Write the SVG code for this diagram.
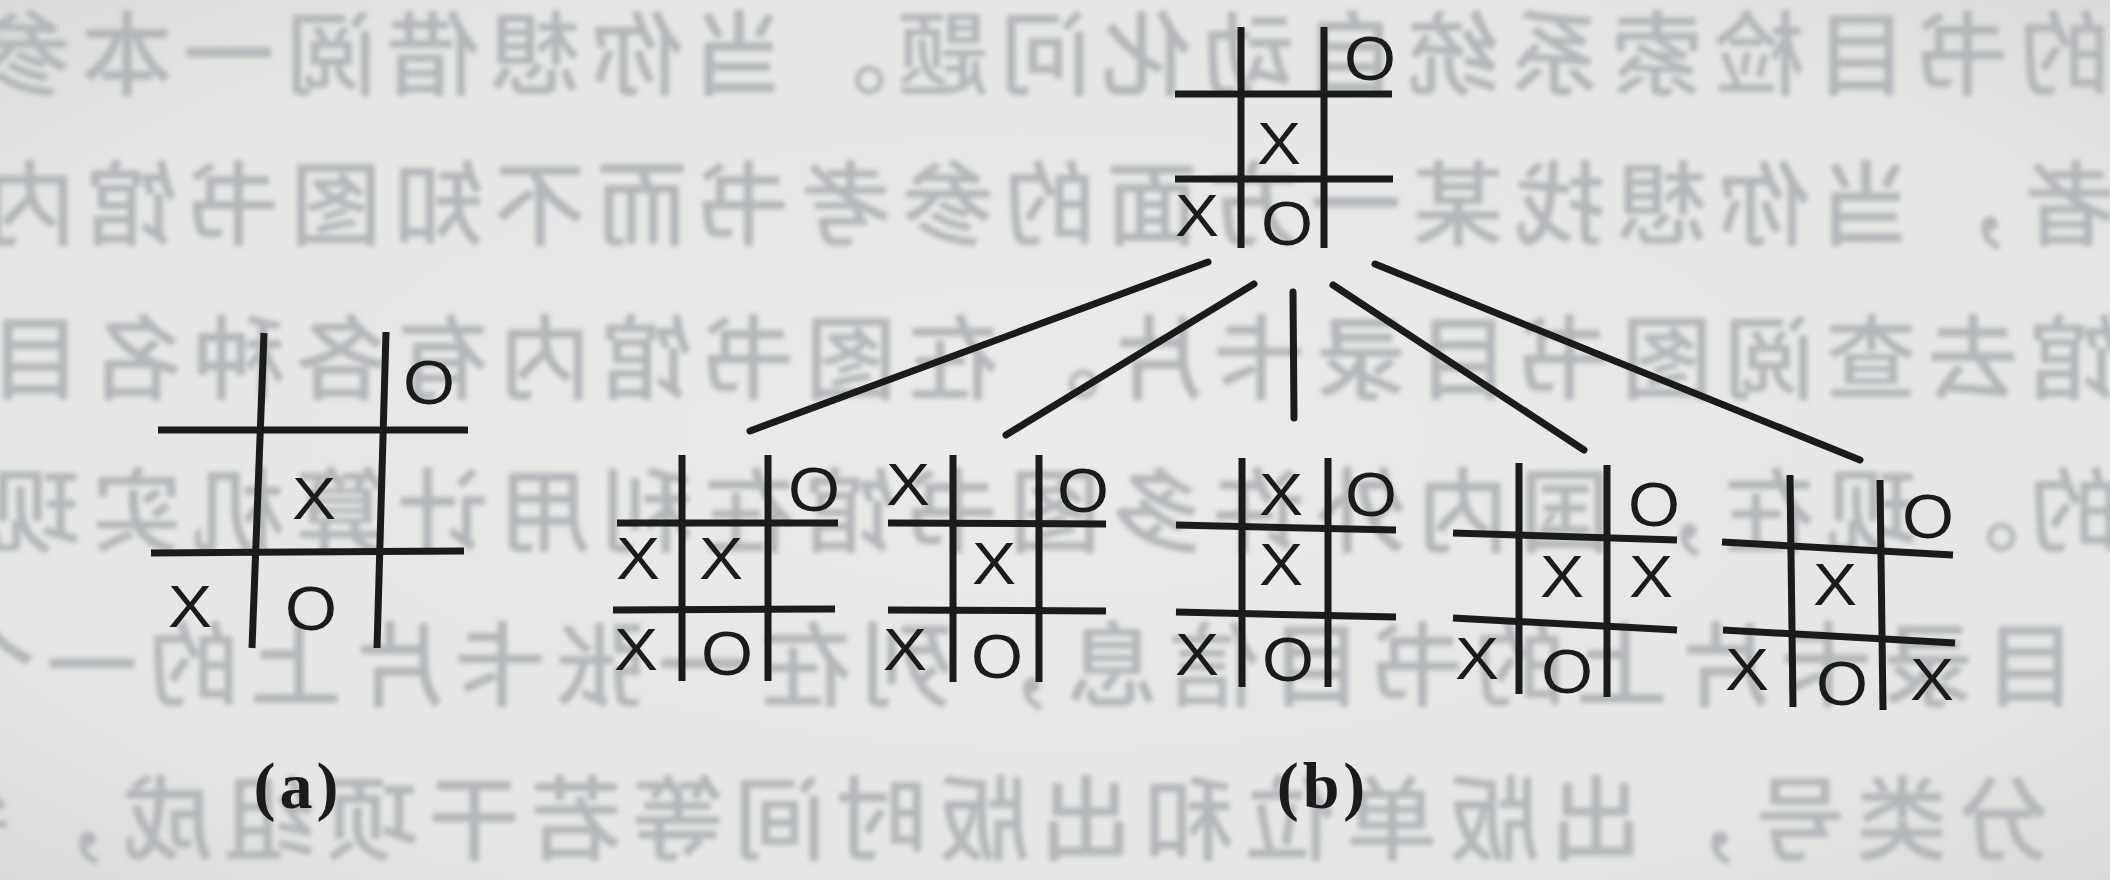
<svg xmlns="http://www.w3.org/2000/svg" width="2110" height="880" viewBox="0 0 2110 880">
<defs>
<radialGradient id="paper" cx="50%" cy="50%" r="75%">
<stop offset="0" stop-color="#ebebe9"/>
<stop offset="0.7" stop-color="#e5e6e4"/>
<stop offset="1" stop-color="#d8d9d7"/>
</radialGradient>
<filter id="soft" x="-5%" y="-20%" width="110%" height="140%">
<feGaussianBlur stdDeviation="2.4"/>
</filter>
<style>
.bt{font-family:"Noto Sans CJK SC","Noto Sans CJK JP",sans-serif;font-size:92px;font-weight:500;letter-spacing:10px;fill:#b3b7ba}
.ln{stroke:#1b1b1b;stroke-width:7;fill:none;stroke-linecap:butt}
.cn{stroke:#1b1b1b;stroke-width:7;fill:none;stroke-linecap:round}
.x{font-family:"Liberation Sans",Arial,sans-serif;font-size:60px;fill:#1b1b1b;text-anchor:middle}
.o{font-family:"Liberation Sans",Arial,sans-serif;font-size:63px;fill:#1b1b1b;text-anchor:middle}
.lab{font-family:"Liberation Serif","Times New Roman",serif;font-size:66px;font-weight:bold;fill:#1b1b1b;text-anchor:middle;letter-spacing:4px}
</style>
</defs>
<rect width="2110" height="880" fill="url(#paper)"/>

<g id="bleed-text" filter="url(#soft)" transform="matrix(-1 0 0 1 2110 0)">
<text class="bt" x="-1" y="88">的书目检索系统自动化问题。当你想借阅一本参</text>
<text class="bt" x="-6" y="238">者，当你想找某一方面的参考书而不知图书馆内</text>
<text class="bt" x="-11" y="392">馆去查阅图书目录卡片。在图书馆内有各种名目</text>
<text class="bt" x="-11" y="545">的。现在，国内外许多图书馆在利用计算机实现</text>
<text class="bt" x="34" y="699">目录卡片上的书目信息，列在一张卡片上的一个</text>
<text class="bt" x="-42" y="853">，分类号，出版单位和出版时间等若干项组成，每</text>
</g>

<g id="connectors">
<line class="cn" x1="1208" y1="262" x2="750" y2="431"/>
<line class="cn" x1="1254" y1="284" x2="1006" y2="435"/>
<line class="cn" x1="1293" y1="292" x2="1294" y2="418"/>
<line class="cn" x1="1333" y1="285" x2="1584" y2="450"/>
<line class="cn" x1="1375" y1="264" x2="1860" y2="460"/>
</g>

<g id="board-a">
<line class="ln" x1="264" y1="333" x2="252" y2="648"/>
<line class="ln" x1="386" y1="332" x2="377" y2="648"/>
<line class="ln" x1="158" y1="430" x2="468" y2="430"/>
<line class="ln" x1="151" y1="553" x2="464" y2="551"/>
<text class="o" x="429" y="404" textLength="52" lengthAdjust="spacingAndGlyphs">O</text>
<text class="x" x="314" y="519" textLength="44" lengthAdjust="spacingAndGlyphs">X</text>
<text class="x" x="190" y="627" textLength="44" lengthAdjust="spacingAndGlyphs">X</text>
<text class="o" x="311" y="630" textLength="52" lengthAdjust="spacingAndGlyphs">O</text>
</g>

<g id="board-root">
<line class="ln" x1="1241" y1="27" x2="1241" y2="248"/>
<line class="ln" x1="1324" y1="27" x2="1324" y2="248"/>
<line class="ln" x1="1175" y1="94" x2="1392" y2="94"/>
<line class="ln" x1="1175" y1="179" x2="1393" y2="179"/>
<text class="o" x="1370" y="80" textLength="52" lengthAdjust="spacingAndGlyphs">O</text>
<text class="x" x="1279" y="164" textLength="44" lengthAdjust="spacingAndGlyphs">X</text>
<text class="x" x="1197" y="236" textLength="44" lengthAdjust="spacingAndGlyphs">X</text>
<text class="o" x="1287" y="245" textLength="52" lengthAdjust="spacingAndGlyphs">O</text>
</g>

<g id="board-c1">
<line class="ln" x1="682" y1="455" x2="682" y2="681"/>
<line class="ln" x1="768" y1="455" x2="768" y2="681"/>
<line class="ln" x1="617" y1="523" x2="838" y2="523"/>
<line class="ln" x1="613" y1="610" x2="835" y2="609"/>
<text class="o" x="814" y="511" textLength="52" lengthAdjust="spacingAndGlyphs">O</text>
<text class="x" x="638" y="579" textLength="44" lengthAdjust="spacingAndGlyphs">X</text>
<text class="x" x="721" y="579" textLength="44" lengthAdjust="spacingAndGlyphs">X</text>
<text class="x" x="636" y="670" textLength="44" lengthAdjust="spacingAndGlyphs">X</text>
<text class="o" x="727" y="675" textLength="52" lengthAdjust="spacingAndGlyphs">O</text>
</g>

<g id="board-c2">
<line class="ln" x1="953" y1="455" x2="953" y2="682"/>
<line class="ln" x1="1039" y1="455" x2="1039" y2="682"/>
<line class="ln" x1="888" y1="523" x2="1106" y2="524"/>
<line class="ln" x1="888" y1="610" x2="1106" y2="611"/>
<text class="x" x="908" y="505" textLength="44" lengthAdjust="spacingAndGlyphs">X</text>
<text class="o" x="1083" y="512" textLength="52" lengthAdjust="spacingAndGlyphs">O</text>
<text class="x" x="994" y="584" textLength="44" lengthAdjust="spacingAndGlyphs">X</text>
<text class="x" x="905" y="670" textLength="44" lengthAdjust="spacingAndGlyphs">X</text>
<text class="o" x="997" y="678" textLength="52" lengthAdjust="spacingAndGlyphs">O</text>
</g>

<g id="board-c3">
<line class="ln" x1="1242" y1="458" x2="1242" y2="687"/>
<line class="ln" x1="1328" y1="458" x2="1328" y2="687"/>
<line class="ln" x1="1176" y1="525" x2="1396" y2="530"/>
<line class="ln" x1="1176" y1="612" x2="1396" y2="617"/>
<text class="x" x="1281" y="515" textLength="44" lengthAdjust="spacingAndGlyphs">X</text>
<text class="o" x="1371" y="516" textLength="52" lengthAdjust="spacingAndGlyphs">O</text>
<text class="x" x="1281" y="585" textLength="44" lengthAdjust="spacingAndGlyphs">X</text>
<text class="x" x="1197" y="675" textLength="44" lengthAdjust="spacingAndGlyphs">X</text>
<text class="o" x="1288" y="681" textLength="52" lengthAdjust="spacingAndGlyphs">O</text>
</g>

<g id="board-c4">
<line class="ln" x1="1519" y1="463" x2="1519" y2="694"/>
<line class="ln" x1="1607" y1="465" x2="1607" y2="697"/>
<line class="ln" x1="1453" y1="533" x2="1677" y2="540"/>
<line class="ln" x1="1453" y1="618" x2="1677" y2="630"/>
<text class="o" x="1654" y="526" textLength="52" lengthAdjust="spacingAndGlyphs">O</text>
<text class="x" x="1562" y="597" textLength="44" lengthAdjust="spacingAndGlyphs">X</text>
<text class="x" x="1651" y="597" textLength="44" lengthAdjust="spacingAndGlyphs">X</text>
<text class="x" x="1477" y="679" textLength="44" lengthAdjust="spacingAndGlyphs">X</text>
<text class="o" x="1567" y="693" textLength="52" lengthAdjust="spacingAndGlyphs">O</text>
</g>

<g id="board-c5">
<line class="ln" x1="1790" y1="475" x2="1793" y2="707"/>
<line class="ln" x1="1880" y1="480" x2="1883" y2="710"/>
<line class="ln" x1="1722" y1="542" x2="1953" y2="555"/>
<line class="ln" x1="1723" y1="630" x2="1955" y2="643"/>
<text class="o" x="1928" y="538" textLength="52" lengthAdjust="spacingAndGlyphs">O</text>
<text class="x" x="1835" y="605" textLength="44" lengthAdjust="spacingAndGlyphs">X</text>
<text class="x" x="1747" y="690" textLength="44" lengthAdjust="spacingAndGlyphs">X</text>
<text class="o" x="1842" y="705" textLength="52" lengthAdjust="spacingAndGlyphs">O</text>
<text class="x" x="1932" y="700" textLength="44" lengthAdjust="spacingAndGlyphs">X</text>
</g>

<g id="labels">
<text class="lab" x="298" y="808">(a)</text>
<text class="lab" x="1323" y="808">(b)</text>
</g>
</svg>
